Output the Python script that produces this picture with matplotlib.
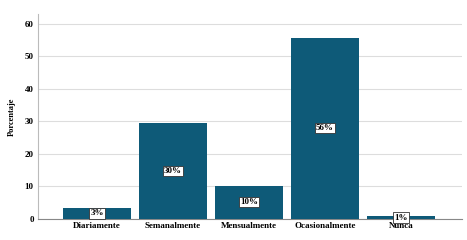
import matplotlib
matplotlib.use("Agg")
import matplotlib.pyplot as plt

categories = ["Diariamente", "Semanalmente", "Mensualmente", "Ocasionalmente", "Nunca"]
values = [3.4, 29.5, 10.2, 55.7, 0.9]
labels = ["3%", "30%", "10%", "56%", "1%"]
yticks = [0, 10, 20, 30, 40, 50, 60]

plt.rcParams['font.family'] = ['Liberation Serif', 'DejaVu Serif']

fig = plt.figure(figsize=(4.67, 2.4), dpi=100)
ax = fig.add_axes([0.081, 0.0875, 0.908, 0.855])
x = list(range(len(categories)))
bars = ax.bar(x, values, width=0.895, color='#0e5a78', zorder=3)
for xi, v, lab in zip(x, values, labels):
    ax.text(xi, v / 2, lab, ha='center', va='center', fontsize=6.5, fontweight='bold',
            zorder=5,
            bbox=dict(boxstyle='square,pad=0.12', facecolor='white', edgecolor='#333333', linewidth=0.6))
ax.set_xlim(-0.78, 4.8)
ax.set_ylim(0, 63)
ax.set_yticks(yticks)
ax.set_xticks(x)
ax.set_xticklabels(categories, fontsize=6.5, fontweight='bold')
ax.tick_params(axis='y', labelsize=6.5, length=0, pad=3)
ax.tick_params(axis='x', length=0, pad=2.5)
for t in ax.get_yticklabels():
    t.set_fontweight('bold')
ax.yaxis.grid(True, color='#dddddd', linewidth=0.8, zorder=0)
ax.set_axisbelow(True)
for s in ['top', 'right']:
    ax.spines[s].set_visible(False)
ax.spines['left'].set_color('#bbbbbb')
ax.spines['bottom'].set_color('#888888')
ax.set_ylabel('Porcentaje', fontsize=6, fontweight='bold', labelpad=6)
fig.savefig('out.png', dpi=100)
